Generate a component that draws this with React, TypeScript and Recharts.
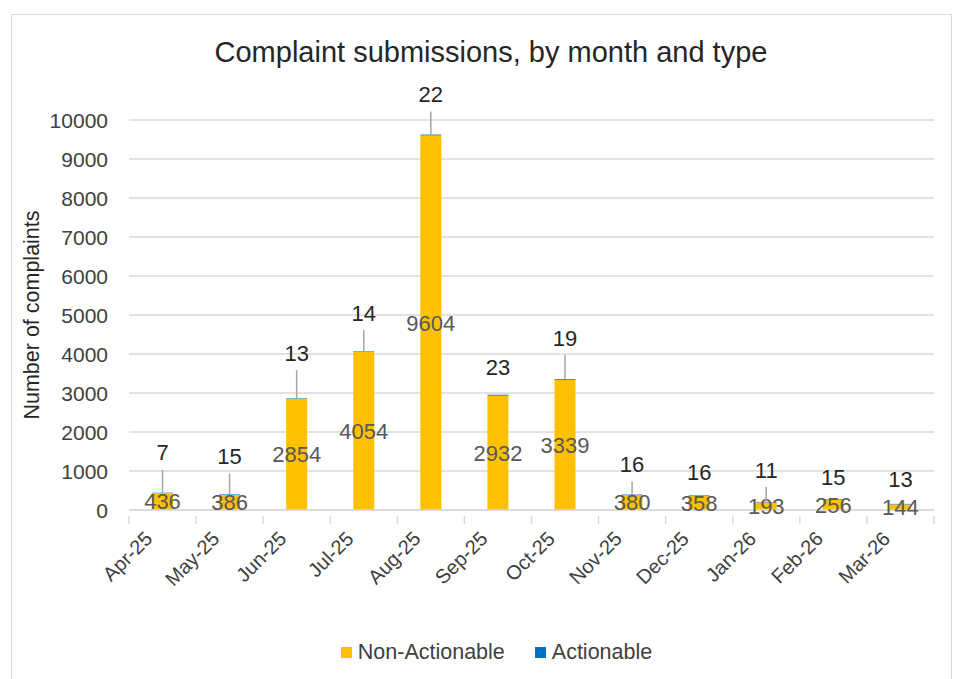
import { BarChart, Bar, XAxis, YAxis, CartesianGrid, LabelList, Legend } from "recharts";

const months = ["Apr-25", "May-25", "Jun-25", "Jul-25", "Aug-25", "Sep-25", "Oct-25", "Nov-25", "Dec-25", "Jan-26", "Feb-26", "Mar-26"];
const nonActionable = [436, 386, 2854, 4054, 9604, 2932, 3339, 380, 358, 193, 256, 144];
const actionable = [7, 15, 13, 14, 22, 23, 19, 16, 16, 11, 15, 13];
const yTicks = [0, 1000, 2000, 3000, 4000, 5000, 6000, 7000, 8000, 9000, 10000];

// labels for the small series were dragged up by hand in the original, px above bar top
const actionableLabelLift = [40, 38, 45, 38, 40, 27, 41, 30, 23, 32, 22, 24];

const GOLD = "#FFC000";
const BLUE = "#0070C0";
const GRID = "#D9D9D9";
const FONT = "'Liberation Sans', Arial, sans-serif";

const data = months.map((m, i) => ({
  month: m,
  nonActionable: nonActionable[i],
  actionable: actionable[i],
}));

const YTick = (props: any) => {
  const { y, payload } = props;
  return (
    <text x={108} y={y} textAnchor="end" dominantBaseline="central" fontSize={21} fill="#404040" fontFamily={FONT}>
      {payload.value}
    </text>
  );
};

// month label plus the excel-style tick marks between categories
const XTick = (props: any) => {
  const { x, y, payload, index, width } = props;
  const band = (width || 805) / months.length;
  const axisY = y - 2;
  const px = x - 9;
  const py = y + 22;
  const left = x - band / 2;
  const right = x + band / 2;
  return (
    <g>
      <line x1={left} x2={left} y1={axisY} y2={axisY + 8} stroke={GRID} strokeWidth={1.5} />
      {index === months.length - 1 && <line x1={right} x2={right} y1={axisY} y2={axisY + 8} stroke={GRID} strokeWidth={1.5} />}
      <text
        x={px}
        y={py}
        textAnchor="end"
        fontSize={20}
        fill="#404040"
        fontFamily={FONT}
        transform={`rotate(-45 ${px} ${py})`}
      >
        {payload.value}
      </text>
    </g>
  );
};

const ActionableLabel = (props: any) => {
  const vb = props.viewBox || {};
  const x = props.x ?? vb.x;
  const y = props.y ?? vb.y;
  const width = props.width ?? vb.width;
  const index = props.index ?? 0;
  const cx = x + width / 2;
  const lift = actionableLabelLift[index] ?? 30;
  const ly = y - lift;
  return (
    <g>
      {lift >= 29 && <line x1={cx} x2={cx} y1={ly + 17} y2={y} stroke="#A6A6A6" strokeWidth={1.5} />}
      <text x={cx} y={ly} textAnchor="middle" dominantBaseline="central" fontSize={22} fill="#262626" fontFamily={FONT}>
        {props.value}
      </text>
    </g>
  );
};

const LegendContent = () => (
  <div style={{ display: "flex", justifyContent: "center", fontFamily: FONT, fontSize: 21.5, color: "#404040", paddingLeft: 34 }}>
    <span style={{ display: "flex", alignItems: "center", marginRight: 30 }}>
      <span style={{ width: 11, height: 11, background: GOLD, marginRight: 6, display: "inline-block" }} />
      Non-Actionable
    </span>
    <span style={{ display: "flex", alignItems: "center" }}>
      <span style={{ width: 11, height: 11, background: BLUE, marginRight: 6, display: "inline-block" }} />
      Actionable
    </span>
  </div>
);

export default function App() {
  return (
    <div style={{ position: "absolute", left: 0, top: 0, width: 959, height: 679, background: "#fff", overflow: "hidden" }}>
      <div style={{ position: "absolute", left: 11, top: 14, width: 939, height: 700, border: `1.5px solid ${GRID}` }} />
      <div
        style={{
          position: "absolute",
          left: 0,
          width: 982,
          top: 34,
          textAlign: "center",
          fontFamily: FONT,
          fontSize: 29,
          color: "#262626",
          lineHeight: "36px",
        }}
      >
        Complaint submissions, by month and type
      </div>
      <div style={{ position: "absolute", left: 0, top: 0 }}>
        <BarChart width={959} height={679} data={data} margin={{ top: 120, right: 25, left: 0, bottom: 0 }}>
          <CartesianGrid vertical={false} stroke={GRID} strokeWidth={1.5} />
          <XAxis
            dataKey="month"
            interval={0}
            height={169}
            axisLine={{ stroke: GRID, strokeWidth: 1.5 }}
            tickLine={false}
            tick={<XTick />}
          />
          <YAxis
            domain={[0, 10000]}
            ticks={yTicks}
            width={129}
            axisLine={false}
            tickLine={false}
            tick={<YTick />}
            label={(p: any) => {
              const vb = p.viewBox || {};
              const cy = (vb.y ?? 120) + (vb.height ?? 390) / 2;
              return (
                <text
                  x={32}
                  y={cy}
                  textAnchor="middle"
                  dominantBaseline="central"
                  fontSize={21.5}
                  fill="#262626"
                  fontFamily={FONT}
                  transform={`rotate(-90 32 ${cy})`}
                >
                  Number of complaints
                </text>
              );
            }}
          />
          <Legend verticalAlign="middle" align="center" wrapperStyle={{ top: 640, left: 0, width: 959 }} content={<LegendContent />} />
          <Bar dataKey="nonActionable" name="Non-Actionable" stackId="a" fill={GOLD} barSize={21} isAnimationActive={false}>
            <LabelList dataKey="nonActionable" position="center" fontSize={22} fill="#595959" fontFamily={FONT} />
          </Bar>
          <Bar dataKey="actionable" name="Actionable" stackId="a" fill={BLUE} barSize={21} isAnimationActive={false}>
            <LabelList dataKey="actionable" content={<ActionableLabel />} />
          </Bar>
        </BarChart>
      </div>
    </div>
  );
}
